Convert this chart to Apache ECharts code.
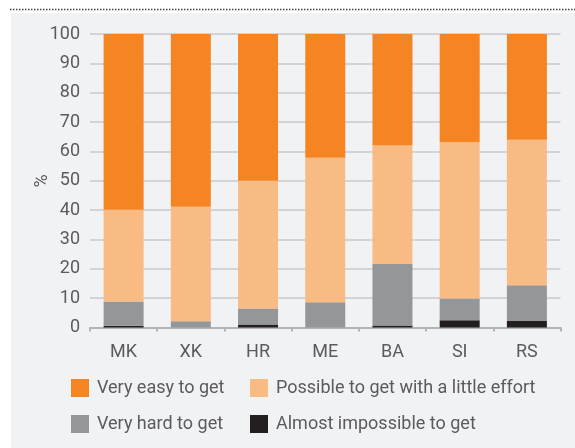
<!DOCTYPE html>
<html><head><meta charset="utf-8">
<script src="https://cdn.jsdelivr.net/npm/echarts@6/dist/echarts.min.js"></script>
<style>html,body{margin:0;padding:0;background:#fff}#c{width:575px;height:448px}</style>
</head><body><div id="c"></div>
<script>
const categories = ['MK','XK','HR','ME','BA','SI','RS'];
const almostImpossible = [0.6, 0, 1.0, 0, 0.7, 2.5, 2.2];
const veryHard = [8.3, 2.1, 5.5, 8.6, 20.9, 7.4, 12.2];
const possibleEffort = [31.2, 39.0, 43.5, 49.2, 40.4, 53.2, 49.6];
const veryEasy = [59.9, 58.9, 50.0, 42.2, 38.0, 36.9, 36.0];
const yTicks = [0,10,20,30,40,50,60,70,80,90,100];
const yName = '%';
const names = ['Very easy to get','Possible to get with a little effort','Very hard to get','Almost impossible to get'];
const colors = ['#f58423','#f9bb84','#959699','#231f20'];

const font = 'Roboto';
const fs = 18;
const txt = '#5b5b5d';
const chart = echarts.init(document.getElementById('c'), null, {renderer:'canvas'});
function leg(name, left, top){
  return {data:[name], left, top, itemWidth:18, itemHeight:18, itemGap:0,
    icon:'rect', padding:0, textStyle:{fontFamily:font, fontSize:fs, color:txt, padding:[0,0,0,3]}, selectedMode:false};
}
const mk = (name, data, color) => ({name, type:'bar', stack:'s', data, barWidth:40,
  itemStyle:{color}, emphasis:{disabled:true}, animation:false});
chart.setOption({
  animation:false,
  graphic:[
    {type:'rect', z:-10, shape:{x:11,y:13,width:564,height:435}, style:{fill:'#f1f2f4'}},
    {type:'line', z:-10, shape:{x1:10,y1:9.5,x2:575,y2:9.5}, style:{stroke:'#444', lineWidth:1.5, lineDash:[1.5,1.5]}},
    {type:'text', x:42, y:181, rotation:Math.PI/2, style:{text:yName, fontFamily:font, fontSize:fs, fill:txt, align:'center', verticalAlign:'middle'}}
  ],
  legend:[leg(names[0],71,379), leg(names[1],250,379), leg(names[2],71,415), leg(names[3],250,415)],
  grid:{left:90, right:14.5, top:34, bottom:120.5},
  xAxis:{type:'category', data:categories,
    axisLine:{lineStyle:{color:'#b3b4b7', width:2}},
    axisTick:{show:true, length:4, lineStyle:{color:'#b3b4b7', width:2}},
    axisLabel:{fontFamily:font, fontSize:fs, color:txt, margin:16}},
  yAxis:{type:'value', min:0, max:100, interval:10,
    axisLine:{show:false}, axisTick:{show:false},
    splitLine:{lineStyle:{color:'#c8c9cc', width:1.5}},
    axisLabel:{fontFamily:font, fontSize:fs, color:txt, margin:10,
      formatter:v => yTicks.includes(v) ? String(v) : ''}},
  series:[
    mk(names[3], almostImpossible, colors[3]),
    mk(names[2], veryHard, colors[2]),
    mk(names[1], possibleEffort, colors[1]),
    mk(names[0], veryEasy, colors[0])
  ]
});
</script></body></html>
